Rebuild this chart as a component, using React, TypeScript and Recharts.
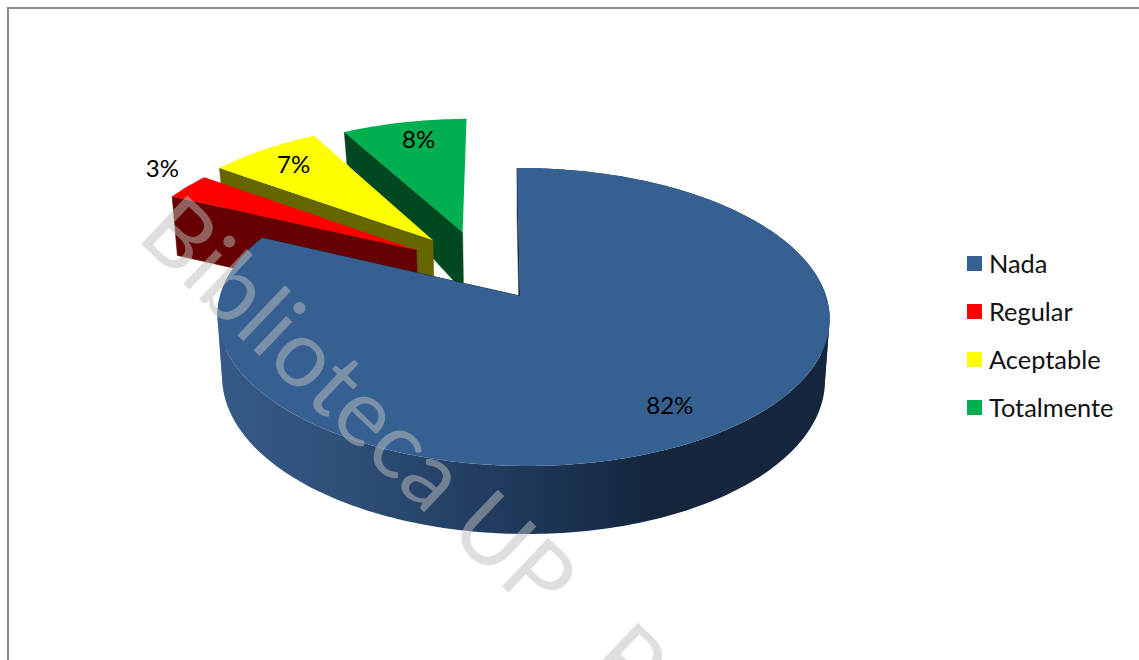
import React from 'react';
import { PieChart, Pie, Legend } from 'recharts';

const CATEGORIES = ['Nada', 'Regular', 'Aceptable', 'Totalmente'];
const VALUES = [82, 3, 7, 8];
const COLORS = ['#376092', '#FF0000', '#FFFF00', '#00B050'];
const WALL_COLORS = ['#14253c', '#660000', '#666600', '#00481f'];

const WIDTH = 1139;
const HEIGHT = 660;
const FONT = 'Lato, "Open Sans", sans-serif';

// 3-D look of the chart
const PIE_CX = 520;
const PIE_CY = 296;
const PIE_R = 303;
const DISK_RY = 146;
const PERSP_V = 0.141;
const PERSP_U = 0.01;
const SKEW = 0.023;
const BOTTOM_SCALE = 0.985;
const EXPLODE: Record<string, [number, number]> = {
  Nada: [0, 0],
  Regular: [-0.355, -0.33],
  Aceptable: [-0.3, -0.4055],
  Totalmente: [-0.197, -0.467],
};
const SLICE_SCALE: Record<string, number> = { Nada: 1, Regular: 1.02, Aceptable: 1.03, Totalmente: 1 };
const LABEL_RADIUS: Record<string, number> = { Nada: 0.8, Regular: 1.22, Aceptable: 0.82, Totalmente: 0.82 };
const LABEL_SHIFT: Record<string, [number, number]> = {
  Nada: [3, -1],
  Regular: [16, -8],
  Aceptable: [-2, -3],
  Totalmente: [5, -2],
};
const DROP_V = [-1.335, -0.77, 0, 1];
const DROP_PX = [32, 59, 60, 68];

const pieData = CATEGORIES.map((name, i) => ({
  name,
  value: VALUES[i],
  fill: COLORS[i],
  wall: WALL_COLORS[i],
})).reverse();

const RAD = Math.PI / 180;

function drop(v: number) {
  if (v <= DROP_V[0]) return DROP_PX[0];
  for (let i = 1; i < DROP_V.length; i++) {
    if (v <= DROP_V[i]) {
      const t = (v - DROP_V[i - 1]) / (DROP_V[i] - DROP_V[i - 1]);
      return DROP_PX[i - 1] + t * (DROP_PX[i] - DROP_PX[i - 1]);
    }
  }
  return DROP_PX[DROP_PX.length - 1];
}

function project(cx: number, cy: number, r: number, u: number, v: number): [number, number] {
  const w = 1 - PERSP_V * v - PERSP_U * u;
  const y = cy + (DISK_RY * v) / w;
  const x = cx + (r * u) / w + SKEW * (y - cy);
  return [x, y];
}

function projectBottom(cx: number, cy: number, r: number, u: number, v: number): [number, number] {
  const [x, y] = project(cx, cy, r, u, v);
  return [cx + (x - cx) * BOTTOM_SCALE, y + drop(v)];
}

const toPath = (pts: [number, number][]) =>
  'M' + pts.map((p) => `${p[0].toFixed(2)},${p[1].toFixed(2)}`).join('L') + 'Z';

// split an arc wherever its screen x turns round, so each wall piece has one winding
function monotonicRuns(disk: [number, number][], P: (d: [number, number]) => [number, number]) {
  const runs: [number, number][][] = [];
  let run: [number, number][] = [disk[0]];
  let sign = 0;
  for (let i = 1; i < disk.length; i++) {
    const dx = P(disk[i])[0] - P(disk[i - 1])[0];
    const s = Math.sign(dx);
    if (sign !== 0 && s !== 0 && s !== sign) {
      runs.push(run);
      run = [disk[i - 1]];
    }
    if (s !== 0) sign = s;
    run.push(disk[i]);
  }
  runs.push(run);
  return runs;
}

function Slice3D(props: any) {
  const { cx, cy, outerRadius, startAngle, endAngle, name, fill, payload } = props;
  const key = name ?? payload?.name;
  const [ox, oy] = EXPLODE[key] ?? [0, 0];
  const scale = SLICE_SCALE[key] ?? 1;
  const wall = payload?.wall ?? '#000';
  const steps = Math.max(4, Math.ceil(Math.abs(endAngle - startAngle)));
  const disk: [number, number][] = [];
  for (let i = 0; i <= steps; i++) {
    const t = (startAngle + ((endAngle - startAngle) * i) / steps) * RAD;
    disk.push([ox + scale * Math.cos(t), oy - scale * Math.sin(t)]);
  }
  const P = (d: [number, number]) => project(cx, cy, outerRadius, d[0], d[1]);
  const B = (d: [number, number]) => projectBottom(cx, cy, outerRadius, d[0], d[1]);
  const apex: [number, number] = [ox, oy];
  const first = disk[0];
  const last = disk[disk.length - 1];
  const isMain = key === CATEGORIES[0];
  return (
    <g>
      {isMain && (
        <defs>
          <linearGradient id="mainWall" gradientUnits="userSpaceOnUse" x1={217} y1={0} x2={829} y2={0}>
            <stop offset="0" stopColor="#365a87" />
            <stop offset="0.2" stopColor="#2f5079" />
            <stop offset="0.45" stopColor="#203c5f" />
            <stop offset="0.72" stopColor="#14253c" />
            <stop offset="1" stopColor="#15263e" />
          </linearGradient>
        </defs>
      )}
      {isMain && <path d={toPath([P(apex), P(first), B(first), B(apex)])} fill={wall} stroke={wall} strokeWidth={0.8} />}
      <path d={toPath([P(apex), P(last), B(last), B(apex)])} fill={wall} stroke={wall} strokeWidth={0.5} />
      {isMain &&
        monotonicRuns(disk, P).map((run, i) => (
          <path key={i} d={toPath([...run.map(P), ...run.slice().reverse().map(B)])} fill="url(#mainWall)" />
        ))}
      <path d={toPath([P(apex), ...disk.map(P)])} fill={fill ?? payload?.fill} />
    </g>
  );
}

function renderLabel(props: any) {
  const { cx, cy, outerRadius, midAngle, name, value } = props;
  const [ox, oy] = EXPLODE[name] ?? [0, 0];
  const f = LABEL_RADIUS[name] ?? 0.8;
  const [sx, sy] = LABEL_SHIFT[name] ?? [0, 0];
  const t = midAngle * RAD;
  const [x, y] = project(cx, cy, outerRadius, ox + f * Math.cos(t), oy - f * Math.sin(t));
  return (
    <text
      x={x + sx}
      y={y + sy}
      textAnchor="middle"
      dominantBaseline="central"
      style={{ fontFamily: FONT, fontSize: 24 }}
      fill="#000"
    >
      {`${value}%`}
    </text>
  );
}

function LegendBox() {
  return (
    <div style={{ fontFamily: FONT, fontSize: 25.4, color: '#111', whiteSpace: 'nowrap' }}>
      {CATEGORIES.map((c, i) => (
        <div key={c} style={{ display: 'flex', alignItems: 'center', height: 48 }}>
          <span style={{ width: 15, height: 15, background: COLORS[i], marginRight: 7, display: 'inline-block' }} />
          <span>{c}</span>
        </div>
      ))}
    </div>
  );
}

export default function App() {
  return (
    <div style={{ position: 'absolute', left: 0, top: 0, width: WIDTH, height: HEIGHT, overflow: 'hidden', background: '#fff' }}>
      <PieChart width={WIDTH} height={HEIGHT} margin={{ top: 0, right: 0, bottom: 0, left: 0 }}>
        <rect x={8} y={8} width={1400} height={1000} fill="none" stroke="#8c8c8c" strokeWidth={2} />
        <Pie
          data={pieData}
          dataKey="value"
          nameKey="name"
          cx={PIE_CX}
          cy={PIE_CY}
          innerRadius={0}
          outerRadius={PIE_R}
          startAngle={90}
          endAngle={450}
          stroke="none"
          paddingAngle={0}
          isAnimationActive={false}
          shape={Slice3D}
          label={renderLabel}
          labelLine={false}
        />
        <Legend
          content={LegendBox}
          wrapperStyle={{ position: 'absolute', left: 967, top: 239, width: 170, height: 192 }}
        />
      </PieChart>
      <svg width={WIDTH} height={HEIGHT} style={{ position: 'absolute', left: 0, top: 0, pointerEvents: 'none' }}>
        <text
          x={135}
          y={238}
          transform="rotate(43.5 135 238)"
          fontFamily={FONT}
          fontSize={93.5}
          fill="#bebebe"
          fillOpacity={0.5}
        >
          Biblioteca UP<tspan dx={46}> P</tspan>
        </text>
      </svg>
    </div>
  );
}
